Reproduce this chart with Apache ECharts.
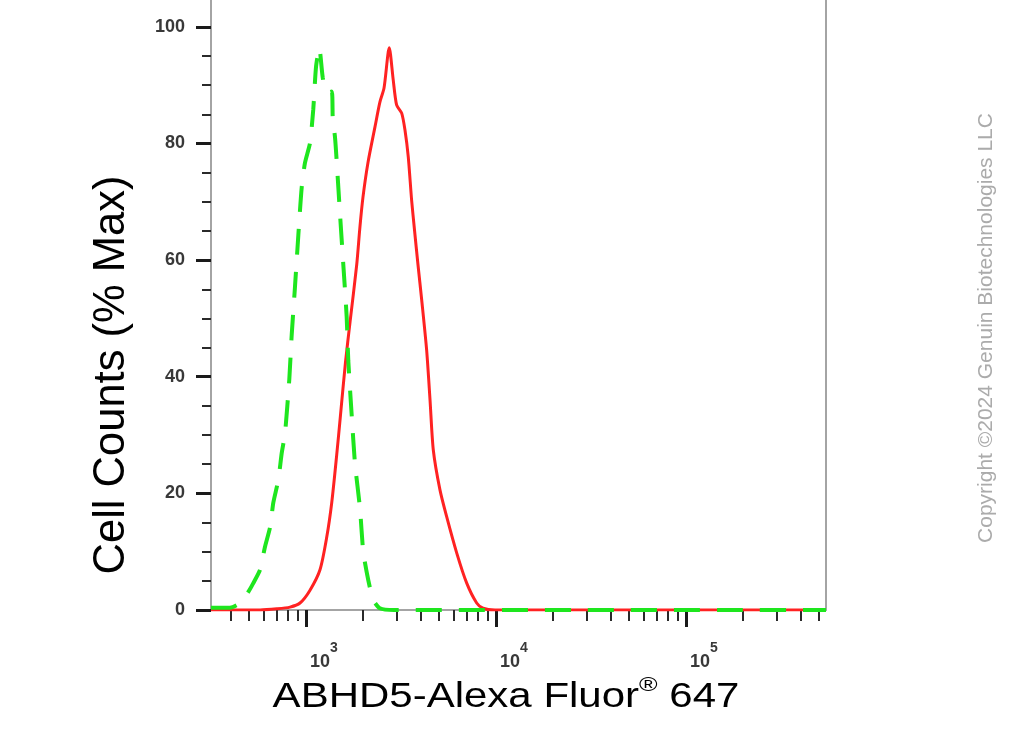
<!DOCTYPE html>
<html>
<head>
<meta charset="utf-8">
<script src="https://cdn.jsdelivr.net/npm/echarts/dist/echarts.min.js"></script>
<style>
html,body{margin:0;padding:0;background:#fff;}
#chart{width:1017px;height:730px;}
</style>
</head>
<body>
<div id="chart"></div>
<script>
// ---- data (fluorescence intensity, % of max) ----
const redFluor = [316, 573, 703, 824, 930, 1050, 1185, 1286, 1366, 1451, 1519, 1614, 1706, 1849, 1923, 1995, 2119, 2306, 2449, 2575, 2743, 2878, 2999, 3189, 3319, 3454, 3597, 3724, 3886, 4064, 4315, 4497, 4680, 5072, 5501, 6211, 7015, 7915, 8546, 9885, 30000, 150000, 546000];
const redCount = [0, 0, 0.2, 0.5, 1.2, 3.4, 6.9, 12.5, 18.4, 26.6, 33.4, 42.5, 49.4, 59.2, 65.7, 70.8, 76.7, 82.8, 87.1, 89.5, 96.4, 90.9, 86.6, 85.2, 82.3, 77.7, 70.3, 65.2, 59.2, 53.2, 44.6, 36.0, 27.4, 20.6, 16.0, 9.8, 4.6, 1.2, 0.3, 0, 0, 0, 0];

const greenFluor = [316, 398, 450, 497, 528, 573, 608, 647, 673, 715, 745, 775, 817, 841, 875, 911, 949, 988, 1050, 1092, 1129, 1175, 1225, 1286, 1366, 1383, 1422, 1457, 1510, 1572, 1637, 1670, 1741, 1812, 1923, 2003, 2128, 2261, 2449, 2900, 30000, 150000, 546000];
const greenCount = [0.4, 0.4, 1.2, 3.1, 4.6, 6.9, 10.8, 14.2, 18.4, 22.3, 26.9, 30.2, 39.6, 47.2, 55.4, 64.2, 72.4, 76.7, 80.1, 85.8, 93.1, 96.4, 91.3, 88.7, 88.9, 84.4, 81.0, 76.0, 67.9, 59.2, 50.3, 42.7, 33.3, 25.0, 17.5, 9.9, 5.1, 1.7, 0.3, 0, 0, 0, 0];

// ---- axis ticks ----
const yMajorTicks = [0, 20, 40, 60, 80, 100];
const yMinorTicks = [5, 10, 15, 25, 30, 35, 45, 50, 55, 65, 70, 75, 85, 90, 95];
const xDecades = [3, 4, 5];                       // 10^3, 10^4, 10^5
const xMinorValues = [400, 500, 600, 700, 800, 900,
  2000, 3000, 4000, 5000, 6000, 7000, 8000, 9000,
  20000, 30000, 40000, 50000, 60000, 70000, 80000, 90000,
  200000, 300000, 400000, 500000];
const xRangeFluor = [316.2, 546000];
const yRange = [0, 104.6];

const xTitle = 'ABHD5-Alexa Fluor';
const xTitleSup = '®';
const xTitleTail = ' 647';
const yTitle = 'Cell Counts (% Max)';
const copyright = 'Copyright ©2024 Genuin Biotechnologies LLC';

// ---- build ----
const lg = v => Math.log10(v);
const toPairs = (xs, ys) => xs.map((x, i) => [lg(x), ys[i]]);
const xMin = lg(xRangeFluor[0]), xMax = lg(xRangeFluor[1]);
const FONT = '"Liberation Sans", Arial, sans-serif';
const axisGrey = '#a4a4a4';

const chart = echarts.init(document.getElementById('chart'), null, {renderer: 'canvas'});
chart.setOption({
  animation: false,
  backgroundColor: '#fff',
  textStyle: {fontFamily: FONT},
  grid: {left: 211, right: 191, top: 0, bottom: 120, show: false},
  xAxis: [
    {
      type: 'value', min: xMin, max: xMax, position: 'bottom',
      axisLine: {show: true, onZero: false, lineStyle: {color: axisGrey, width: 2}},
      axisTick: {show: true, customValues: xDecades, length: 17, lineStyle: {color: '#1a1a1a', width: 3}},
      axisLabel: {
        show: true, customValues: xDecades, margin: 31, align: 'left', padding: [0, 0, 0, 4],
        formatter: v => '{b|10}{s|' + Math.round(v) + '}',
        rich: {
          b: {fontSize: 18, fontWeight: 'bold', color: '#383838', lineHeight: 30, verticalAlign: 'bottom', fontFamily: FONT},
          s: {fontSize: 14, fontWeight: 'bold', color: '#383838', lineHeight: 14, verticalAlign: 'top', fontFamily: FONT}
        }
      },
      splitLine: {show: false}
    },
    {
      type: 'value', min: xMin, max: xMax, position: 'bottom',
      axisLine: {show: false, onZero: false},
      axisTick: {show: true, customValues: xMinorValues.map(lg), length: 11, lineStyle: {color: '#2a2a2a', width: 2}},
      axisLabel: {show: false},
      splitLine: {show: false}
    }
  ],
  yAxis: [
    {
      type: 'value', min: yRange[0], max: yRange[1], position: 'left',
      axisLine: {show: true, onZero: false, lineStyle: {color: axisGrey, width: 2}},
      axisTick: {show: true, customValues: yMajorTicks, length: 15, lineStyle: {color: '#1a1a1a', width: 3}},
      axisLabel: {show: true, customValues: yMajorTicks, margin: 26, fontSize: 18, fontWeight: 'bold', color: '#383838', fontFamily: FONT},
      splitLine: {show: false}
    },
    {
      type: 'value', min: yRange[0], max: yRange[1], position: 'left',
      axisLine: {show: false, onZero: false},
      axisTick: {show: true, customValues: yMinorTicks, length: 9, lineStyle: {color: '#2a2a2a', width: 2}},
      axisLabel: {show: false},
      splitLine: {show: false}
    },
    {
      type: 'value', min: yRange[0], max: yRange[1], position: 'right',
      axisLine: {show: true, onZero: false, lineStyle: {color: axisGrey, width: 2}},
      axisTick: {show: false},
      axisLabel: {show: false},
      splitLine: {show: false}
    }
  ],
  series: [
    {
      name: 'ABHD5', type: 'line', xAxisIndex: 0, yAxisIndex: 0,
      data: toPairs(redFluor, redCount), showSymbol: false, smooth: 0.25,
      lineStyle: {color: '#ff2222', width: 3}, z: 3
    },
    {
      name: 'Isotype', type: 'line', xAxisIndex: 0, yAxisIndex: 0,
      data: toPairs(greenFluor, greenCount), showSymbol: false, smooth: 0.2,
      lineStyle: {color: '#1ee61e', width: 4, type: [26, 17]}, z: 4
    }
  ],
  graphic: [
    {
      type: 'text', x: 112, y: 375, rotation: Math.PI / 2,
      style: {text: yTitle, fontSize: 43.5, fontFamily: FONT, fill: '#000', align: 'center', verticalAlign: 'middle'}
    },
    {
      type: 'text', x: 506, y: 695, scaleX: 1.2,
      style: {
        text: '{a|' + xTitle + '}{r|' + xTitleSup + '}{a|' + xTitleTail + '}',
        align: 'center', verticalAlign: 'middle',
        rich: {
          a: {fontSize: 35, fontFamily: FONT, fill: '#000', lineHeight: 40, verticalAlign: 'bottom'},
          r: {fontSize: 21, fontFamily: FONT, fill: '#000', lineHeight: 21, verticalAlign: 'top'}
        }
      }
    },
    {
      type: 'text', x: 986, y: 328, rotation: Math.PI / 2,
      style: {text: copyright, fontSize: 21, fontFamily: FONT, fill: '#ababab', align: 'center', verticalAlign: 'middle'}
    }
  ]
});
</script>
</body>
</html>
